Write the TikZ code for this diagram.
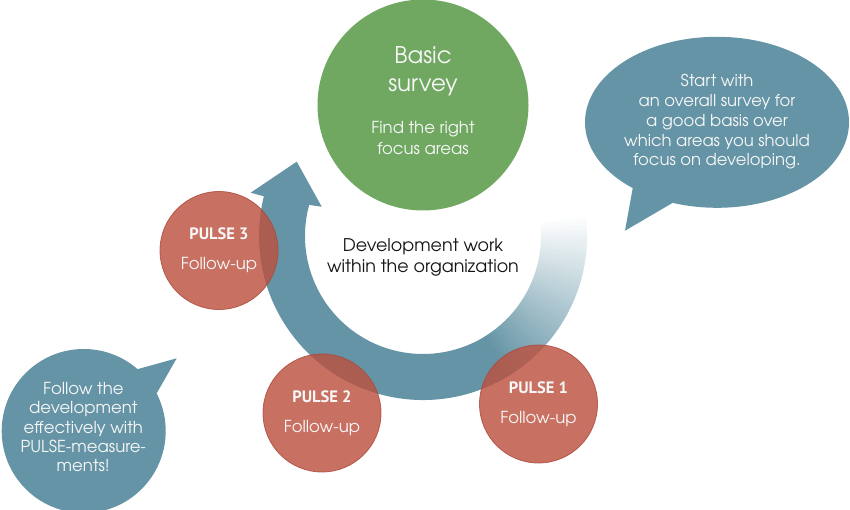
\documentclass[tikz,border=0pt]{standalone}
\usepackage{fontspec}
\usetikzlibrary{shapes.geometric}
\newfontfamily\gothic{texgyreadventor-regular.otf}
\newfontfamily\pulsefont{PT Sans}
\definecolor{ringblue}{RGB}{100,148,165}
\definecolor{surveygreen}{RGB}{112,168,98}
\definecolor{pulsered}{RGB}{188,82,64}
\definecolor{pulseedge}{RGB}{172,72,58}
\definecolor{lighttext}{RGB}{247,247,247}
\definecolor{darktext}{RGB}{20,20,20}
\newcommand\topstrut{\rule{0pt}{0.8em}}
\begin{document}
\begin{tikzpicture}[x=1pt,y=-1pt,
  pulsecircle/.style={circle, inner sep=0pt, minimum size=118pt, fill=pulsered, draw=pulseedge, line width=0.8pt, fill opacity=0.82, draw opacity=0.82},
  pulsetitle/.style={anchor=base, inner sep=0pt, text=lighttext, font=\pulsefont\bfseries\fontsize{16.5}{20}\selectfont},
  followup/.style={anchor=base, inner sep=0pt, text=lighttext, font=\gothic\fontsize{16.5}{18}\selectfont},
  bubbletext/.style={anchor=north, inner sep=0pt, align=center, text=lighttext},
  bubblefill/.style={fill=ringblue, draw=none},
]
\useasboundingbox (0,0) rectangle (850,510);

% ---- curved arrow ring ----
\begin{scope}[shift={(423,236)}]
  \foreach \a in {-8,...,57} {
    \pgfmathtruncatemacro\f{min(100,max(0,(\a+8)/66*100))}
    \fill[ringblue!\f!white] ({\a}:164) arc[start angle=\a, end angle=\a+1.5, radius=164]
      -- ({\a+1.5}:118) arc[start angle=\a+1.5, end angle=\a, radius=118] -- cycle;
  }
  \fill[ringblue] (58:164) arc[start angle=58, end angle=194, radius=164]
    -- (194.1:177.7) -- (210.5:146.5) -- (196.1:105.4) -- (195.3:118)
    arc[start angle=195.3, end angle=58, radius=118] -- cycle;
\end{scope}

% ---- basic survey ----
\node[circle, inner sep=0pt, minimum size=211pt, fill=surveygreen] (survey) at (423,105) {};
\node[bubbletext, font=\gothic\fontsize{23}{28}\selectfont] (surveytitle) at (423,44.6) {\topstrut Basic\\survey};
\node[bubbletext, font=\gothic\fontsize{16.5}{21}\selectfont] (surveysub) at (423,119.8) {\topstrut Find the right\\focus areas};

% ---- right speech bubble ----
\node[ellipse, inner sep=0pt, minimum width=264pt, minimum height=171pt, bubblefill] (startbubble) at (717,122.3) {};
\coordinate (starttip) at (625,230.7);
\fill[bubblefill] (635,175.6) -- (starttip) -- (684.4,196) -- (startbubble.center) -- cycle;
\node[bubbletext, font=\gothic\fontsize{16.4}{19.7}\selectfont] (starttext) at (717,73.6)
  {\topstrut Start with\\an overall survey for\\a good basis over\\which areas you should\\focus on developing.};

% ---- left speech bubble ----
\node[circle, inner sep=0pt, minimum size=164pt, bubblefill] (followbubble) at (83.7,431) {};
\coordinate (followtip) at (176.7,358.3);
\fill[bubblefill] (129.9,371.3) -- (followtip) -- (150.7,403.8) -- (followbubble.center) -- cycle;
\node[bubbletext, font=\gothic\fontsize{16.5}{19.4}\selectfont] (followtext) at (83.3,380.8)
  {\topstrut Follow the\\development\\effectively with\\PULSE-measure-\\ments!};

% ---- centre text ----
\node[bubbletext, text=darktext, font=\gothic\fontsize{17.5}{21}\selectfont] (centretext) at (423,237.7)
  {\topstrut Development work\\within the organization};

% ---- pulse circles ----
\node[pulsecircle] (pulse3) at (219,250.5) {};
\node[pulsecircle] (pulse2) at (322,413) {};
\node[pulsecircle] (pulse1) at (538.5,404) {};

\node[pulsetitle] (p3title) at (219,239.5) {PULSE 3};
\node[followup] (p3follow) at (219,269.5) {Follow-up};
\node[pulsetitle] (p2title) at (322,402) {PULSE 2};
\node[followup] (p2follow) at (322,432) {Follow-up};
\node[pulsetitle] (p1title) at (538.5,393) {PULSE 1};
\node[followup] (p1follow) at (538.5,423) {Follow-up};
\end{tikzpicture}
\end{document}
